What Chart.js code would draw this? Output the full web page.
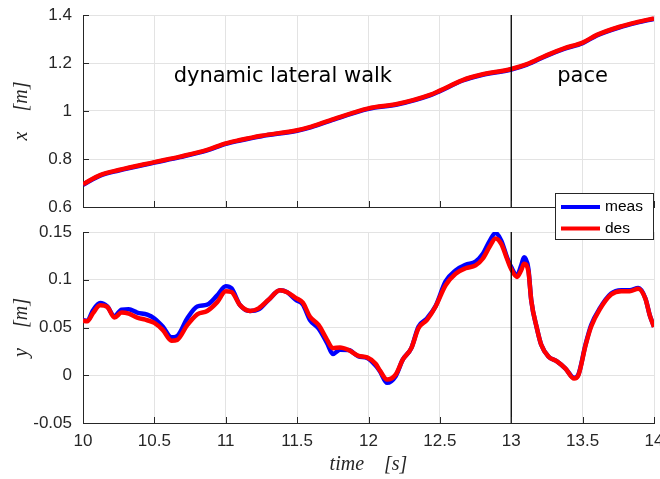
<!DOCTYPE html>
<html>
<head>
<meta charset="utf-8">
<title>Lateral walk / pace tracking</title>
<script src="https://cdn.jsdelivr.net/npm/chart.js@4/dist/chart.umd.min.js"></script>
<style>
  html, body { margin: 0; padding: 0; background: #fff; }
  #wrap { position: relative; width: 660px; height: 479px; background: #fff; overflow: hidden; }
  #wrap canvas { position: absolute; left: 0; }
</style>
</head>
<body>
<div id="wrap">
  <canvas id="x-chart" width="660" height="215" style="top:0"></canvas>
  <canvas id="y-chart" width="660" height="294" style="top:185px"></canvas>
</div>
<script>
/* ---------- data ---------- */

// x position, top panel
const xTime = [10, 10.12, 10.25, 10.5, 10.68, 10.87, 11, 11.1, 11.25, 11.5, 11.6, 11.73, 12,
  12.2, 12.43, 12.5, 12.66, 12.78, 13, 13.11, 13.25, 13.37, 13.5, 13.6, 13.76, 13.88, 14];
const xDes = [0.695, 0.733, 0.754, 0.787, 0.81, 0.838, 0.865, 0.879, 0.897, 0.92, 0.935, 0.961, 1.011,
  1.029, 1.067, 1.085, 1.129, 1.15, 1.175, 1.195, 1.233, 1.261, 1.285, 1.317, 1.351, 1.37, 1.386];
const xMeas = [0.693, 0.731, 0.752, 0.785, 0.808, 0.836, 0.863, 0.877, 0.895, 0.918, 0.933, 0.959, 1.009,
  1.027, 1.065, 1.083, 1.127, 1.148, 1.173, 1.193, 1.231, 1.259, 1.283, 1.315, 1.349, 1.368, 1.384];

// y position, bottom panel
const yTime = [10.0, 10.03, 10.07, 10.12, 10.17, 10.22, 10.27, 10.32, 10.38, 10.45, 10.5, 10.56, 10.62,
  10.66, 10.73, 10.8, 10.87, 10.94, 11.0, 11.04, 11.1, 11.17, 11.23, 11.3, 11.38, 11.43, 11.49, 11.54,
  11.59, 11.65, 11.71, 11.75, 11.8, 11.86, 11.93, 11.99, 12.05, 12.08, 12.13, 12.19, 12.24, 12.3, 12.35,
  12.41, 12.47, 12.54, 12.61, 12.68, 12.75, 12.8, 12.85, 12.89, 12.93, 12.97, 13.0, 13.04, 13.07, 13.09,
  13.12, 13.14, 13.18, 13.21, 13.26, 13.32, 13.38, 13.44, 13.47, 13.52, 13.56, 13.62, 13.7, 13.77, 13.83,
  13.89, 13.94, 13.97, 14.0];
const yMeas = [0.0576, 0.057, 0.068, 0.0756, 0.072, 0.062, 0.0687, 0.069, 0.0656, 0.0635, 0.0594, 0.0507, 0.0397,
  0.041, 0.0594, 0.072, 0.0739, 0.0836, 0.0933, 0.091, 0.0734, 0.0673, 0.069, 0.079, 0.089, 0.087, 0.079, 0.0741,
  0.0578, 0.049, 0.0336, 0.0222, 0.0267, 0.0264, 0.0197, 0.018, 0.0101, 0.0042, -0.0079, -0.001, 0.0163, 0.0284, 0.0509,
  0.0596, 0.0724, 0.0983, 0.1098, 0.1157, 0.1191, 0.127, 0.141, 0.149, 0.141, 0.1236, 0.1132, 0.1046, 0.115, 0.1236,
  0.1115, 0.0786, 0.049, 0.0319, 0.0197, 0.0145, 0.007, -0.0027, 0.0007, 0.0319, 0.0527, 0.07, 0.0855, 0.089, 0.089,
  0.0914, 0.0804, 0.063, 0.0509];
const yDes = [0.057, 0.0565, 0.065, 0.0732, 0.0715, 0.0604, 0.0656, 0.0645, 0.0604, 0.0576, 0.0548, 0.0472, 0.0361,
  0.037, 0.0524, 0.0638, 0.0673, 0.0766, 0.088, 0.0872, 0.0734, 0.0673, 0.07, 0.079, 0.089, 0.087, 0.081, 0.076,
  0.0612, 0.0527, 0.0371, 0.0284, 0.029, 0.0264, 0.0204, 0.0187, 0.0121, 0.0049, -0.0045, 0.0007, 0.0163, 0.0284, 0.0492,
  0.058, 0.072, 0.0942, 0.1063, 0.112, 0.115, 0.122, 0.135, 0.1433, 0.1375, 0.122, 0.111, 0.103, 0.11, 0.1167,
  0.109, 0.0786, 0.049, 0.0319, 0.0197, 0.0145, 0.007, -0.0034, 0.0, 0.031, 0.051, 0.069, 0.0845, 0.088, 0.088,
  0.0905, 0.08, 0.063, 0.0505];

// axes
const timeRange = [10, 14];
const timeStep = 0.5;
const xRange = [0.6, 1.4];
const xStep = 0.2;
const yRange = [-0.05, 0.15];
const yStep = 0.05;

// gait phases
const switchTime = 13;
const phaseLabels = ["dynamic lateral walk", "pace"];
const phaseLabelT = [11.4, 13.5];
const phaseLabelX = [1.145, 1.145];

/* ---------- styling ---------- */
const AXIS = "#262626";
const GRID = "#e3e3e3";
const BLUE = "#0000ff";
const RED = "#ff0000";
const TICK_FONT = { family: "'Liberation Sans', Arial, sans-serif", size: 17 };
const TITLE_FONT = { family: "'Liberation Serif', 'Times New Roman', serif", size: 20, style: "italic" };

const pts = (ts, vs) => ts.map((t, i) => ({ x: t, y: vs[i] }));
const fmt = v => String(+v.toFixed(2));

// MATLAB style inward tick marks
const insideTicks = {
  id: "insideTicks",
  afterDraw(chart) {
    const { ctx, chartArea: a, scales } = chart;
    ctx.save();
    ctx.strokeStyle = AXIS;
    ctx.lineWidth = 1;
    ctx.beginPath();
    scales.x.ticks.forEach(t => {
      const px = Math.round(scales.x.getPixelForValue(t.value)) + 0.5;
      ctx.moveTo(px, a.bottom); ctx.lineTo(px, a.bottom - 6);
    });
    scales.y.ticks.forEach(t => {
      const py = Math.round(scales.y.getPixelForValue(t.value)) + 0.5;
      ctx.moveTo(a.left, py); ctx.lineTo(a.left + 6, py);
    });
    ctx.stroke();
    ctx.restore();
  }
};

// phase names in the top panel
const phaseText = {
  id: "phaseText",
  afterDatasetsDraw(chart) {
    const { ctx, scales } = chart;
    ctx.save();
    ctx.font = "21px 'DejaVu Sans', sans-serif";
    ctx.fillStyle = "#000";
    ctx.textAlign = "center";
    ctx.textBaseline = "middle";
    phaseLabels.forEach((s, i) => {
      ctx.fillText(s, scales.x.getPixelForValue(phaseLabelT[i]), scales.y.getPixelForValue(phaseLabelX[i]));
    });
    ctx.restore();
  }
};

// boxed legend sitting on the top edge of the lower panel
const boxLegend = {
  id: "boxLegend",
  afterDraw(chart) {
    const { ctx, chartArea: a } = chart;
    const items = chart.data.datasets.filter(d => d.inLegend);
    const w = 99, h = 47;
    const x0 = a.right - w, y0 = a.top - 39;
    ctx.save();
    ctx.fillStyle = "#fff";
    ctx.fillRect(x0, y0, w, h);
    ctx.strokeStyle = AXIS;
    ctx.lineWidth = 1;
    ctx.strokeRect(x0 + 0.5, y0 + 0.5, w - 1, h - 1);
    ctx.font = "15.5px 'Liberation Sans', Arial, sans-serif";
    ctx.textBaseline = "middle";
    items.forEach((d, i) => {
      const cy = y0 + 14 + i * 21.5;
      ctx.strokeStyle = d.borderColor;
      ctx.lineWidth = 4;
      ctx.beginPath();
      ctx.moveTo(x0 + 6, cy); ctx.lineTo(x0 + 45, cy);
      ctx.stroke();
      ctx.fillStyle = "#000";
      ctx.fillText(d.label, x0 + 50, cy);
    });
    ctx.restore();
  }
};

// order: higher is drawn first, so des lies on top of meas
function series(label, color, data, order) {
  return {
    label, data, order, inLegend: true,
    borderColor: color, backgroundColor: color,
    borderWidth: 4.5, pointRadius: 0, tension: 0.35,
    cubicInterpolationMode: "monotone", fill: false
  };
}

function switchLine(range) {
  return {
    label: "switch", inLegend: false, order: 0,
    data: [{ x: switchTime, y: range[0] }, { x: switchTime, y: range[1] }],
    borderColor: "#000", borderWidth: 1.3, pointRadius: 0
  };
}

function baseScales(valueRange, valueStep, title, showTimeLabels, xHeight) {
  return {
    x: {
      type: "linear", min: timeRange[0], max: timeRange[1],
      ticks: { display: showTimeLabels, stepSize: timeStep, font: TICK_FONT, color: AXIS, padding: 8, maxRotation: 0, callback: fmt },
      grid: { color: GRID, drawTicks: false },
      border: { color: AXIS, width: 1 },
      title: {
        display: showTimeLabels, text: "time    [s]", font: TITLE_FONT, color: AXIS,
        padding: { top: 0, bottom: 2 }
      },
      afterFit(s) { s.height = xHeight; s.paddingLeft = 0; s.paddingRight = 0; }
    },
    y: {
      min: valueRange[0], max: valueRange[1],
      ticks: { stepSize: valueStep, font: TICK_FONT, color: AXIS, padding: 11, callback: fmt },
      grid: { color: GRID, drawTicks: false },
      border: { color: AXIS, width: 1 },
      title: { display: true, text: title, font: TITLE_FONT, color: AXIS, padding: { top: 10, bottom: 0 } },
      afterFit(s) { s.width = 83; s.paddingTop = 0; s.paddingBottom = 0; }
    }
  };
}

const common = {
  responsive: false,
  animation: false,
  plugins: { legend: { display: false }, tooltip: { enabled: false } }
};

// top panel: x
new Chart(document.getElementById("x-chart").getContext("2d"), {
  type: "line",
  data: {
    datasets: [
      series("meas", BLUE, pts(xTime, xMeas), 2),
      series("des", RED, pts(xTime, xDes), 1),
      switchLine(xRange)
    ]
  },
  options: {
    ...common,
    layout: { padding: { top: 15, right: 6, left: 0, bottom: 0 } },
    scales: baseScales(xRange, xStep, "x    [m]", false, 8)
  },
  plugins: [insideTicks, phaseText]
});

// bottom panel: y
new Chart(document.getElementById("y-chart").getContext("2d"), {
  type: "line",
  data: {
    datasets: [
      series("meas", BLUE, pts(yTime, yMeas), 2),
      series("des", RED, pts(yTime, yDes), 1),
      switchLine(yRange)
    ]
  },
  options: {
    ...common,
    layout: { padding: { top: 47, right: 6, left: 0, bottom: 0 } },
    scales: baseScales(yRange, yStep, "y    [m]", true, 56)
  },
  plugins: [insideTicks, boxLegend]
});
</script>
</body>
</html>
